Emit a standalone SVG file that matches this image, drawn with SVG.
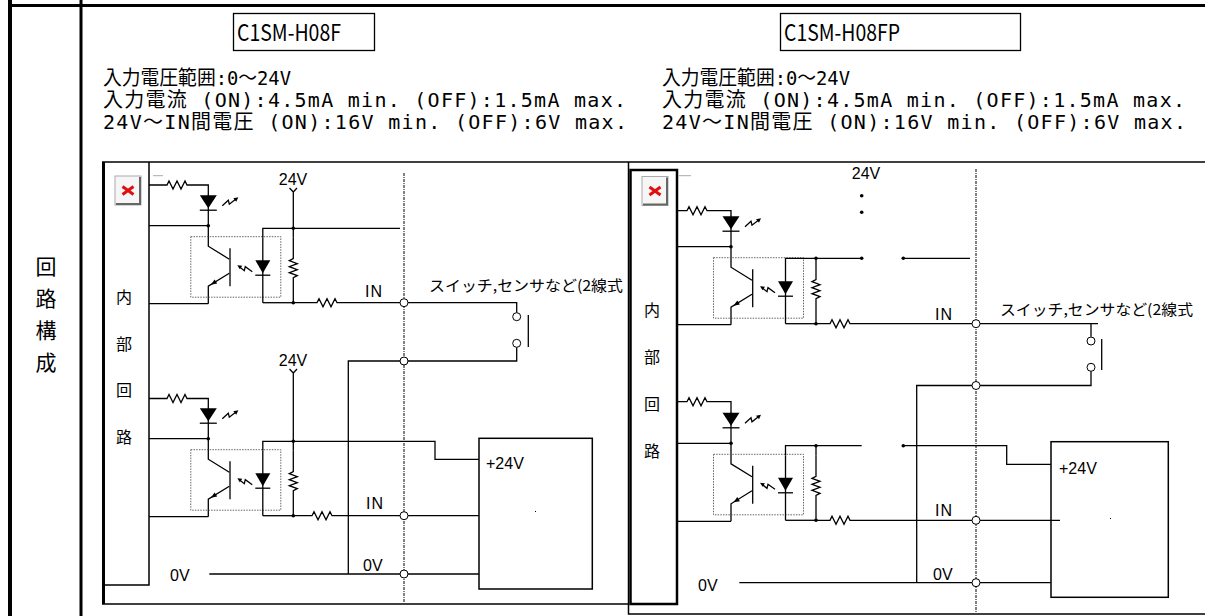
<svg xmlns="http://www.w3.org/2000/svg" xmlns:xlink="http://www.w3.org/1999/xlink" width="1205" height="616" viewBox="0 0 1205 616">
<defs>
<style>
.w{fill:none;stroke:#000;stroke-width:1.3}
.f{fill:#000}
.t{fill:#fff;stroke:#000;stroke-width:1}
.dd{fill:none;stroke:#000;stroke-width:1;stroke-dasharray:3 1 1 1}
.db{fill:none;stroke:#555;stroke-width:0.9;stroke-dasharray:1.5 1.2}
.jp{font-family:"Noto Sans CJK JP","Noto Sans",sans-serif;fill:#000}
.sp{font-family:"DejaVu Sans Mono","Noto Sans CJK JP",monospace;font-size:20px;fill:#000}
.lb{font-family:"Liberation Sans",Arial,sans-serif;font-size:16px;fill:#000}
.fr{fill:none;stroke:#000;stroke-width:1.5}
</style>
<g id="opto">
<path class="w" d="M0,-31 V0"/>
<path class="f" d="M-8.5,-30.5 H8.5 L0,-17.5 Z"/>
<path class="w" d="M-8.5,-15.5 H8.5"/>
<path class="w" stroke-width="1" d="M14,-20 L20,-25.5 L21,-21.5 L28,-27"/>
<path class="f" d="M30,-28.5 L25,-27.5 L28,-24 Z"/>
<circle class="f" cx="0" cy="0" r="1.8"/>
<path class="w" d="M0,0 V20.5 L21,33.5"/>
<path class="w" stroke-width="1.7" d="M21.7,22.5 V60.5"/>
<path class="w" d="M21,47.5 L0,60.5 V78"/>
<path class="f" d="M2.5,59 L8.9,57.9 L6.3,53.7 Z"/>
<rect class="db" x="-17.5" y="11" width="90" height="60.5"/>
<path class="w" d="M54.5,12 V77"/>
<path class="f" d="M47,34.5 H62 L54.5,47.5 Z"/>
<path class="w" d="M47,49.5 H62"/>
<path class="w" stroke-width="1" d="M44,46 L37,41 L36,45 L31,41"/>
<path class="f" d="M29,39.5 L34,40 L31.5,43.5 Z"/>
<path class="w" d="M85,12 V33 l-4,2 l8,3 l-8,3 l8,3 l-8,3 l8,3 l-4,2 V77"/>
<path class="w" d="M54.5,77 H85"/>
<circle class="f" cx="85" cy="77" r="1.8"/>
</g>
<g id="xicon">
<rect x="0.5" y="0.5" width="26" height="29" fill="#f6f6f6" stroke="#aaa"/>
<path d="M1.5,28.5 H25.5 V1.5" stroke="#666" stroke-width="2" fill="none"/>
<path d="M8,11 L19,19 M19,11 L8,19" stroke="#e01010" stroke-width="3"/>
</g>
</defs>
<rect width="1205" height="616" fill="#fff"/>

<g id="frame">
<path d="M10,0 V616" stroke="#000" stroke-width="4"/>
<path d="M81,0 V616" stroke="#000" stroke-width="3"/>
<path d="M8,5.5 H1205" stroke="#000" stroke-width="3"/>
</g>

<g id="section-label">
<text class="jp" font-size="21" text-anchor="middle"><tspan x="46" y="274">回</tspan><tspan x="46" y="306">路</tspan><tspan x="46" y="338">構</tspan><tspan x="46" y="370">成</tspan></text>
</g>

<g id="header-left">
<rect x="233.5" y="13.5" width="141" height="37" fill="none" stroke="#000" stroke-width="1.3"/>
<text class="jp" x="237" y="41" font-size="23" textLength="104" lengthAdjust="spacingAndGlyphs">C1SM-H08F</text>
<text class="sp" x="103" y="85" textLength="188" lengthAdjust="spacingAndGlyphs">入力電圧範囲:0〜24V</text>
<text class="sp" x="103" y="107" textLength="523" lengthAdjust="spacing">入力電流 (ON):4.5mA min. (OFF):1.5mA max.</text>
<text class="sp" x="103" y="129" textLength="524" lengthAdjust="spacing">24V〜IN間電圧 (ON):16V min. (OFF):6V max.</text>
</g>

<g id="header-right">
<rect x="780.5" y="13.5" width="240" height="37" fill="none" stroke="#000" stroke-width="1.3"/>
<text class="jp" x="784" y="41" font-size="23" textLength="116" lengthAdjust="spacingAndGlyphs">C1SM-H08FP</text>
<text class="sp" x="662" y="85" textLength="188" lengthAdjust="spacingAndGlyphs">入力電圧範囲:0〜24V</text>
<text class="sp" x="662" y="107" textLength="523" lengthAdjust="spacing">入力電流 (ON):4.5mA min. (OFF):1.5mA max.</text>
<text class="sp" x="662" y="129" textLength="524" lengthAdjust="spacing">24V〜IN間電圧 (ON):16V min. (OFF):6V max.</text>
</g>

<g id="circuit-frames">
<path class="fr" d="M102,162 H1205"/>
<path d="M103.5,162 V604" stroke="#000" stroke-width="3"/>
<path class="fr" d="M149,162 V585 H103"/>
<path class="fr" d="M102,604 H629"/>
<path class="fr" d="M628.5,162 V614 H1205"/>
<rect x="630.5" y="170" width="46.5" height="434" fill="none" stroke="#000" stroke-width="2.5"/>
<use xlink:href="#xicon" href="#xicon" transform="translate(114.5,175.5)"/>
<use xlink:href="#xicon" href="#xicon" transform="translate(641.5,176)"/>
<path d="M153,175.7 H163 M679,175.7 H691" stroke="#aaa" stroke-width="1"/>
<text class="jp" font-size="16" text-anchor="middle"><tspan x="124" y="303">内</tspan><tspan x="124" y="350">部</tspan><tspan x="124" y="396">回</tspan><tspan x="124" y="443">路</tspan></text>
<text class="jp" font-size="16" text-anchor="middle"><tspan x="652" y="316">内</tspan><tspan x="652" y="363">部</tspan><tspan x="652" y="410">回</tspan><tspan x="652" y="457">路</tspan></text>
</g>

<g id="connectors">
<use xlink:href="#opto" href="#opto" transform="translate(208.3,225.7)"/>
<path class="w" d="M149,185 H167 l2,-4 l4,8 l4,-8 l4,8 l4,-8 l2,4 H208.3 V195"/>
<path class="w" d="M149,225.7 H208.3"/>
<path class="w" d="M149,303.7 H208.3"/>
<path class="w" d="M262.8,237.7 V228.3 H400 M293.3,237.7 V228.3"/>
<circle class="f" cx="293.3" cy="228.3" r="1.8"/>
<path class="w" d="M289.5,188 L293.3,192 L297,188 M293.3,192 V228.3"/>
<path class="w" d="M293.3,302.7 H317 l2,-4 l4,8 l4,-8 l4,8 l4,-8 l2,4 H516.7 V312.7"/>
<use xlink:href="#opto" href="#opto" transform="translate(208.3,438.7)"/>
<path class="w" d="M149,398.5 H167 l2,-4 l4,8 l4,-8 l4,8 l4,-8 l2,4 H208.3 V408.2"/>
<path class="w" d="M149,438.7 H208.3"/>
<path class="w" d="M149,516.7 H208.3"/>
<path class="w" d="M262.8,450.7 V441.3 H435 V459.3 H479 M293.3,450.7 V441.3"/>
<circle class="f" cx="293.3" cy="441.3" r="1.8"/>
<path class="w" d="M289.5,369 L293.3,373 L297,369 M293.3,373 V441.3"/>
<path class="w" d="M293.3,515.7 H312 l2,-4 l4,8 l4,-8 l4,8 l4,-8 l2,4 H479"/>
<path class="w" d="M516.7,347.3 V361 H348.3 V574"/>
<path class="w" d="M528.3,315 V347"/>
<path class="w" d="M209.3,574 H479"/>
<path class="dd" d="M404,173 V603"/>

<use xlink:href="#opto" href="#opto" transform="translate(731,246.7)"/>
<path class="w" d="M677,210.7 H687 l2,-4 l4,8 l4,-8 l4,8 l4,-8 l2,4 H731 V216.2"/>
<path class="w" d="M677,246.7 H731"/>
<path class="w" d="M677,324.7 H731"/>
<path class="w" d="M785.5,258.7 V258.3 H861.7 M816,258.7 V258.3 M903.3,258.3 H970"/>
<circle class="f" cx="816" cy="258.3" r="1.8"/>
<circle class="f" cx="861.7" cy="258.3" r="1.8"/>
<circle class="f" cx="903.3" cy="258.3" r="1.8"/>
<circle class="f" cx="861.7" cy="195.7" r="1.8"/>
<circle class="f" cx="861.7" cy="212.3" r="1.8"/>
<path class="w" d="M816,323.7 H830 l2,-4 l4,8 l4,-8 l4,8 l4,-8 l2,4 H1098 M1091,323.7 V336.8"/>
<path class="w" d="M1101.7,339 V370"/>
<path class="w" d="M1091,371.3 V385.5 H916.7 V583"/>
<use xlink:href="#opto" href="#opto" transform="translate(731,443.3)"/>
<path class="w" d="M677,401.7 H687 l2,-4 l4,8 l4,-8 l4,8 l4,-8 l2,4 H731 V412.8"/>
<path class="w" d="M677,443.3 H731"/>
<path class="w" d="M677,521.3 H731"/>
<path class="w" d="M785.5,455.3 V445.7 H861.7 M816,455.3 V445.7 M903.3,445.7 H1006.7 V464.3 H1051"/>
<circle class="f" cx="816" cy="445.7" r="1.8"/>
<circle class="f" cx="903.3" cy="445.7" r="1.8"/>
<path class="w" d="M816,520.3 H830 l2,-4 l4,8 l4,-8 l4,8 l4,-8 l2,4 H1060"/>
<path class="w" d="M739.3,582.7 H1051"/>
<path class="dd" d="M976,169 V612"/>
</g>

<g id="terminals">
<circle class="t" cx="404" cy="302.7" r="4"/>
<circle class="t" cx="404" cy="361" r="4"/>
<circle class="t" cx="404" cy="515.7" r="4"/>
<circle class="t" cx="404" cy="574" r="4"/>
<circle class="t" cx="516.7" cy="316.7" r="4"/>
<circle class="t" cx="516.7" cy="343.3" r="4"/>
<circle class="t" cx="976" cy="323.7" r="4"/>
<circle class="t" cx="976" cy="385.5" r="4"/>
<circle class="t" cx="976" cy="520.3" r="4"/>
<circle class="t" cx="976" cy="582.7" r="4"/>
<circle class="t" cx="1091" cy="341" r="4"/>
<circle class="t" cx="1091" cy="367.3" r="4"/>
</g>

<g id="power-left">
<rect x="479" y="438.3" width="113.3" height="150.7" fill="none" stroke="#000" stroke-width="1.5"/>
<text class="lb" x="486" y="469" font-size="17">+24V</text>
<rect x="535" y="511" width="1" height="1" fill="#000"/>
</g>
<g id="power-right">
<rect x="1051" y="441.7" width="117.3" height="155.6" fill="none" stroke="#000" stroke-width="1.5"/>
<text class="lb" x="1059" y="474" font-size="17">+24V</text>
<rect x="1110" y="518" width="1" height="1" fill="#000"/>
</g>

<g id="labels">
<text class="lb" x="293" y="185" text-anchor="middle">24V</text>
<text class="lb" x="293" y="366" text-anchor="middle">24V</text>
<text class="lb" x="866" y="179" text-anchor="middle" font-size="17">24V</text>
<text class="lb" x="365" y="297" letter-spacing="1">IN</text>
<text class="lb" x="366" y="509" letter-spacing="1">IN</text>
<text class="lb" x="935" y="320" letter-spacing="1">IN</text>
<text class="lb" x="935" y="516" letter-spacing="1">IN</text>
<text class="lb" x="170" y="581">0V</text>
<text class="lb" x="363" y="571">0V</text>
<text class="lb" x="698" y="591">0V</text>
<text class="lb" x="933" y="580">0V</text>
<text class="jp" x="429" y="291" font-size="15" textLength="194" lengthAdjust="spacingAndGlyphs">スイッチ,センサなど(2線式</text>
<text class="jp" x="1000" y="315" font-size="15" textLength="193" lengthAdjust="spacingAndGlyphs">スイッチ,センサなど(2線式</text>
</g>
</svg>
